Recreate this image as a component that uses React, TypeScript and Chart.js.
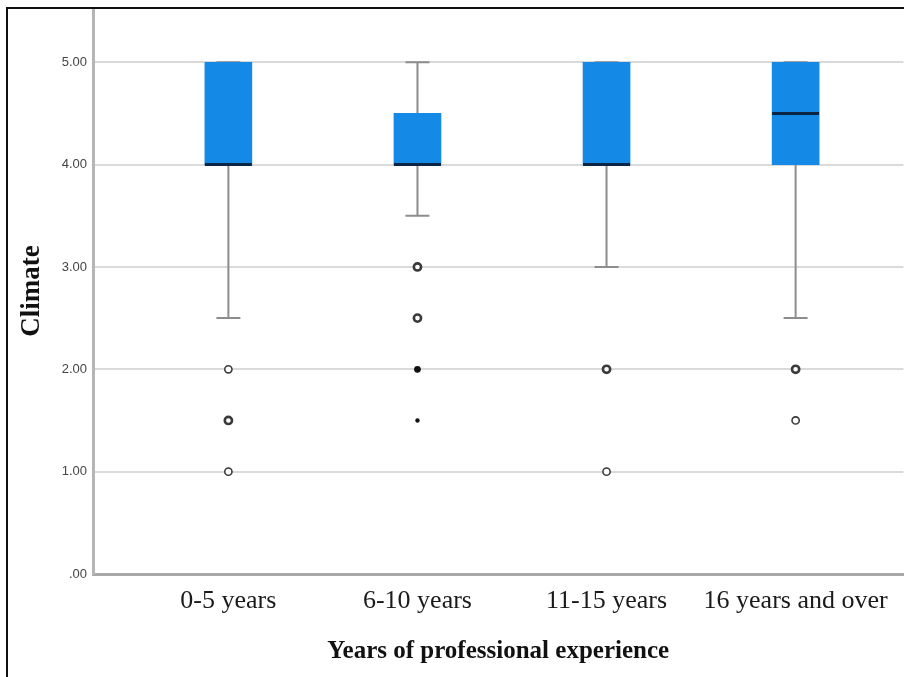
import React, { useEffect, useRef } from "react";
import { Chart, registerables } from "chart.js";

Chart.register(...registerables);

const categories = ["0-5 years", "6-10 years", "11-15 years", "16 years and over"];
const q1Values = [4, 4, 4, 4];
const medianValues = [4, 4, 4, 4.5];
const q3Values = [5, 4.5, 5, 5];
const lowerWhiskers = [2.5, 3.5, 3, 2.5];
const upperWhiskers = [5, 5, 5, 5];
const outlierValues = [[2, 1.5, 1], [3, 2.5], [2, 1], [2, 1.5]];
const outlierCounts = [[1, 2, 1], [3, 2], [2, 1], [2, 1]];
const extremeValues = [[], [2, 1.5], [], []];
const extremeCounts = [[], [2, 1], [], []];
const yTicks = [0, 1, 2, 3, 4, 5];

const BOX_COLOR = "#1589e6";
const WHISKER_COLOR = "#8d8d8d";
const MEDIAN_COLOR = "#0b2545";
const BOX_WIDTH = 47;
const CAP_WIDTH = 24;

function buildPoints(values: number[][], counts: number[][]) {
  const pts: { x: number; y: number; c: number }[] = [];
  values.forEach((arr, i) => {
    arr.forEach((v, j) => pts.push({ x: i + 1, y: v, c: counts[i][j] }));
  });
  return pts;
}

const boxPlugin = {
  id: "boxParts",
  beforeDatasetsDraw(chart: any) {
    const { ctx, scales } = chart;
    const xs = scales.x;
    const ys = scales.y;
    ctx.save();
    ctx.strokeStyle = WHISKER_COLOR;
    ctx.lineWidth = 2;
    categories.forEach((_, i) => {
      const x = xs.getPixelForValue(i + 1);
      const yLo = ys.getPixelForValue(lowerWhiskers[i]);
      const yQ1 = ys.getPixelForValue(q1Values[i]);
      const yQ3 = ys.getPixelForValue(q3Values[i]);
      const yHi = ys.getPixelForValue(upperWhiskers[i]);
      ctx.beginPath();
      ctx.moveTo(x, yLo);
      ctx.lineTo(x, yQ1);
      ctx.moveTo(x, yQ3);
      ctx.lineTo(x, yHi);
      ctx.moveTo(x - CAP_WIDTH / 2, yLo);
      ctx.lineTo(x + CAP_WIDTH / 2, yLo);
      ctx.moveTo(x - CAP_WIDTH / 2, yHi);
      ctx.lineTo(x + CAP_WIDTH / 2, yHi);
      ctx.stroke();
    });
    ctx.restore();
  },
  afterDatasetsDraw(chart: any) {
    const { ctx, scales } = chart;
    const xs = scales.x;
    const ys = scales.y;
    ctx.save();
    ctx.strokeStyle = MEDIAN_COLOR;
    ctx.lineWidth = 3;
    categories.forEach((_, i) => {
      const x = xs.getPixelForValue(i + 1);
      const y = ys.getPixelForValue(medianValues[i]);
      ctx.beginPath();
      ctx.moveTo(x - BOX_WIDTH / 2, y);
      ctx.lineTo(x + BOX_WIDTH / 2, y);
      ctx.stroke();
    });
    ctx.restore();
  },
};

export default function App() {
  const ref = useRef<HTMLCanvasElement | null>(null);

  useEffect(() => {
    if (!ref.current) return;
    const outPts = buildPoints(outlierValues, outlierCounts);
    const extPts = buildPoints(extremeValues, extremeCounts);
    const chart = new Chart(ref.current, {
      type: "bar",
      data: {
        datasets: [
          {
            type: "bar",
            data: categories.map((_, i) => ({ x: i + 1, y: [q1Values[i], q3Values[i]] })) as any,
            backgroundColor: BOX_COLOR,
            borderWidth: 0,
            borderSkipped: false,
            barThickness: BOX_WIDTH,
            order: 2,
          } as any,
          {
            type: "scatter",
            data: outPts as any,
            pointStyle: "circle",
            pointRadius: 3.6,
            pointBackgroundColor: "#ffffff",
            pointBorderColor: "#3a3a3a",
            pointBorderWidth: (c: any) => (c.raw && c.raw.c > 1 ? 2.6 : 1.6),
            order: 1,
          } as any,
          {
            type: "scatter",
            data: extPts as any,
            pointStyle: "circle",
            pointRadius: (c: any) => (c.raw && c.raw.c > 1 ? 3.4 : 2.2),
            pointBackgroundColor: "#111111",
            pointBorderColor: "#111111",
            pointBorderWidth: 0,
            order: 1,
          } as any,
        ],
      },
      options: {
        responsive: false,
        animation: false,
        devicePixelRatio: 1,
        layout: { padding: { left: 0, right: 0, top: 8, bottom: 0 } },
        plugins: {
          legend: { display: false },
          tooltip: { enabled: false },
        },
        scales: {
          x: {
            type: "linear",
            offset: false,
            min: 0.284,
            max: 4.57,
            afterBuildTicks: (s: any) => {
              s.ticks = categories.map((_, i) => ({ value: i + 1 }));
            },
            afterFit: (s: any) => {
              s.height = 103;
              s.paddingLeft = 0;
              s.paddingRight = 0;
            },
            ticks: {
              callback: (v: any) => categories[Number(v) - 1] ?? "",
              font: { family: "Liberation Serif", size: 26 },
              color: "#1a1a1a",
              padding: 12,
              autoSkip: false,
              maxRotation: 0,
            },
            grid: { display: false, drawTicks: false, offset: false },
            border: { color: "#a8a8a8", width: 3 },
            title: {
              display: true,
              text: "Years of professional experience",
              font: { family: "Liberation Serif", size: 25, weight: "bold" },
              color: "#111111",
              padding: { top: 10, bottom: 10 },
            },
          },
          y: {
            type: "linear",
            min: 0,
            max: 5.53,
            afterBuildTicks: (s: any) => {
              s.ticks = yTicks.map((v) => ({ value: v }));
            },
            afterFit: (s: any) => {
              s.width = 93;
              s.paddingTop = 0;
              s.paddingBottom = 0;
            },
            ticks: {
              callback: (v: any) => (Number(v) === 0 ? ".00" : Number(v).toFixed(2)),
              font: { family: "Liberation Sans", size: 13 },
              color: "#444444",
              padding: 6,
            },
            grid: {
              color: (c: any) => (c.tick && c.tick.value === 0 ? "rgba(0,0,0,0)" : "#dadada"),
              lineWidth: 2,
              drawTicks: false,
            },
            border: { color: "#b5b5b5", width: 3 },
            title: {
              display: true,
              text: "Climate",
              font: { family: "Liberation Serif", size: 27, weight: "bold" },
              color: "#111111",
              padding: { top: 16, bottom: 0 },
            },
          },
        },
      } as any,
      plugins: [boxPlugin],
    });
    return () => chart.destroy();
  }, []);

  return (
    <div
      style={{
        position: "absolute",
        left: 0,
        top: 0,
        width: 904,
        height: 677,
        background: "#ffffff",
        overflow: "hidden",
      }}
    >
      <canvas ref={ref} width={910} height={677} style={{ position: "absolute", left: 0, top: 0, display: "block" }} />
      <div
        style={{
          position: "absolute",
          left: 6,
          top: 7,
          width: 898,
          height: 670,
          borderLeft: "2px solid #111",
          borderTop: "2px solid #111",
          boxSizing: "border-box",
          pointerEvents: "none",
        }}
      />
    </div>
  );
}
